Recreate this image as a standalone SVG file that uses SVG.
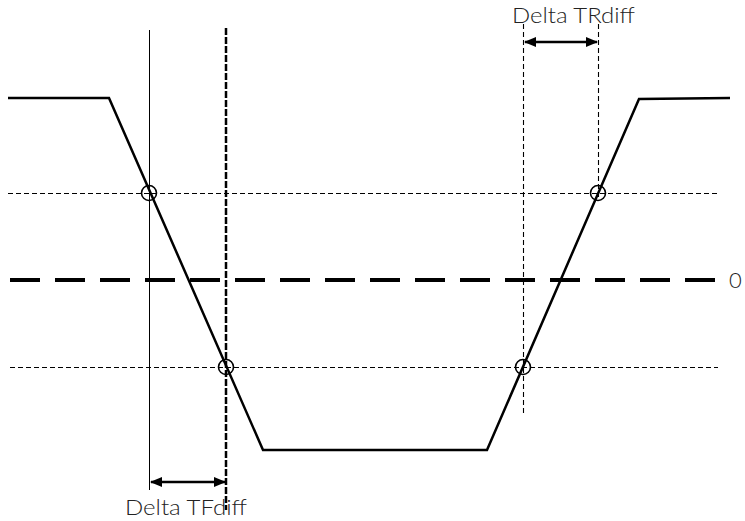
<svg xmlns="http://www.w3.org/2000/svg" width="745" height="521" viewBox="0 0 745 521">
<defs>
<style>
.wave{fill:none;stroke:#000;stroke-width:2.5;stroke-linejoin:miter}
.thin{fill:none;stroke:#000;stroke-width:1.1;stroke-dasharray:5 3}
.solid{fill:none;stroke:#000;stroke-width:1}
.zero{fill:none;stroke:#000;stroke-width:4;stroke-dasharray:30 15}
.bold{fill:none;stroke:#000;stroke-width:2.5;stroke-dasharray:7 2}
.mark{fill:none;stroke:#000;stroke-width:1.6}
.arr{fill:none;stroke:#000;stroke-width:2.5;marker-start:url(#ah);marker-end:url(#ah)}
.lbl{font-family:Lato,"Liberation Sans",Arial,sans-serif;font-weight:300;font-size:22px;fill:#222}
</style>
<marker id="ah" viewBox="0 0 12 10" refX="11" refY="5" markerWidth="12" markerHeight="10" markerUnits="userSpaceOnUse" orient="auto-start-reverse">
<path d="M0,0 L12,5 L0,10 Z" fill="#000"/>
</marker>
</defs>
<g id="connectors">
<line class="thin" x1="8" y1="193.5" x2="718" y2="193.5"/>
<line class="thin" x1="10" y1="367.5" x2="718" y2="367.5"/>
<line class="zero" x1="10" y1="280" x2="715" y2="280"/>
<line class="solid" x1="149.5" y1="30" x2="149.5" y2="490"/>
<line class="bold" x1="226" y1="28" x2="226" y2="510"/>
<line class="thin" x1="523.5" y1="24" x2="523.5" y2="413"/>
<line class="thin" x1="598.5" y1="24" x2="598.5" y2="200"/>
<line class="arr" x1="151" y1="482" x2="225" y2="482"/>
<line class="arr" x1="525" y1="42" x2="597" y2="42"/>
</g>
<g id="waveform">
<polyline class="wave" points="8,98 109,98 263,450 487,450 639,99 730,98"/>
</g>
<g id="markers">
<circle class="mark" cx="149" cy="193" r="7.5"/>
<circle class="mark" cx="226" cy="367" r="7.5"/>
<circle class="mark" cx="523" cy="367" r="7.5"/>
<circle class="mark" cx="598" cy="193" r="7.5"/>
</g>
<g id="labels">
<text class="lbl" x="512" y="23" textLength="123" lengthAdjust="spacingAndGlyphs">Delta TRdiff</text>
<text class="lbl" x="125" y="515" textLength="122" lengthAdjust="spacingAndGlyphs">Delta TFdiff</text>
<text class="lbl" x="729" y="288">0</text>
</g>
</svg>
